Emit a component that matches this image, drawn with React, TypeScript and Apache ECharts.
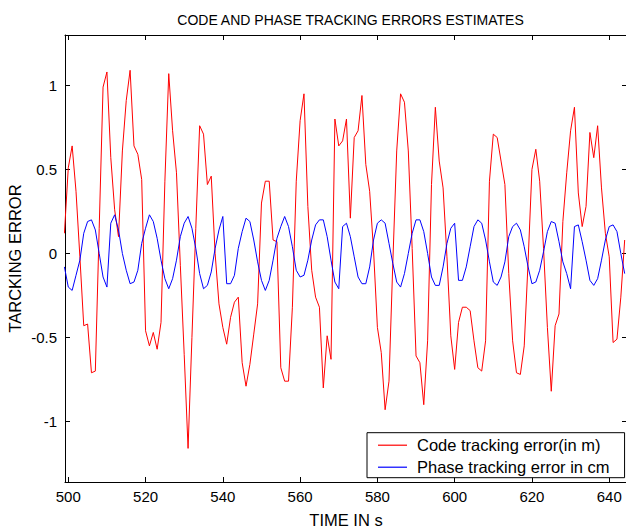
import React, { useEffect, useRef } from "react";
import * as echarts from "echarts";

const startTime = 499;

const codeError = [
  0.12, 0.51, 0.64, 0.37, -0.02, -0.43, -0.42, -0.71, -0.7, 0.15,
  0.99, 1.08, 0.57, 0.26, 0.1, 0.61, 0.91, 1.09, 0.64, 0.59,
  0.44, -0.46, -0.55, -0.47, -0.57, -0.41, 0.43, 1.07, 0.73, 0.48,
  -0.07, -0.6, -1.16, -0.5, 0.15, 0.76, 0.71, 0.41, 0.46, 0.0,
  -0.3, -0.44, -0.54, -0.38, -0.29, -0.26, -0.65, -0.79, -0.66, -0.48,
  -0.3, 0.3, 0.43, 0.43, 0.08, 0.07, -0.68, -0.76, -0.76, -0.32,
  0.43, 0.79, 0.95, 0.28, -0.1, -0.26, -0.32, -0.8, -0.49, -0.63,
  0.8, 0.64, 0.67, 0.8, 0.21, 0.69, 0.73, 0.94, 0.53, 0.37,
  0.02, -0.44, -0.59, -0.93, -0.76, -0.05, 0.61, 0.95, 0.9, 0.61,
  0.03, -0.61, -0.65, -0.9, -0.52, 0.41, 0.87, 0.55, 0.39, -0.02,
  -0.49, -0.69, -0.41, -0.32, -0.32, -0.34, -0.52, -0.68, -0.7, -0.52,
  0.43, 0.71, 0.69, 0.55, 0.41, -0.12, -0.52, -0.71, -0.72, -0.55,
  -0.05, 0.5, 0.62, 0.43, 0.03, -0.44, -0.82, -0.43, -0.36, 0.19,
  0.48, 0.73, 0.87, 0.36, 0.16, 0.28, 0.72, 0.57, 0.76, 0.39,
  0.12, -0.02, -0.53, -0.51, -0.26, 0.08,
];

const phaseError = [
  -0.08, -0.2, -0.22, -0.13, -0.04, 0.12, 0.19, 0.2, 0.14, 0.0,
  -0.14, -0.2, 0.18, 0.23, 0.14, 0.0, -0.1, -0.18, -0.17, -0.1,
  0.06, 0.15, 0.23, 0.19, 0.09, -0.04, -0.15, -0.21, -0.15, -0.04,
  0.1, 0.18, 0.22, 0.15, 0.03, -0.12, -0.21, -0.19, -0.11, 0.03,
  0.14, 0.22, -0.18, -0.18, -0.13, 0.03, 0.13, 0.21, 0.19, 0.08,
  -0.05, -0.16, -0.22, -0.16, -0.04, 0.09, 0.16, 0.22, 0.16, 0.04,
  -0.1, -0.14, -0.13, -0.04, 0.08, 0.17, 0.2, 0.2, 0.1, -0.04,
  -0.17, -0.21, 0.16, 0.18, 0.1, -0.02, -0.14, -0.18, -0.18, -0.08,
  0.08, 0.18, 0.2, 0.18, 0.06, -0.06, -0.17, -0.2, -0.12, 0.0,
  0.12, 0.2, 0.2, 0.13, 0.0, -0.14, -0.19, -0.19, -0.08, 0.06,
  0.15, 0.18, -0.16, -0.16, -0.08, 0.04, 0.16, 0.2, 0.18, 0.08,
  -0.05, -0.17, -0.19, -0.14, -0.05, 0.1, 0.16, 0.18, 0.14, 0.04,
  -0.08, -0.18, -0.17, -0.1, 0.01, 0.13, 0.19, 0.18, 0.07, -0.05,
  -0.12, -0.21, 0.16, 0.17, 0.07, -0.04, -0.16, -0.19, -0.15, -0.04,
  0.08, 0.16, 0.17, 0.13, 0.0, -0.12,
];

const xTicks = [500, 520, 540, 560, 580, 600, 620, 640];
const yTicks = [-1, -0.5, 0, 0.5, 1];

const seriesNames = ["Code tracking error(in m)", "Phase tracking error in cm"];
const seriesColors = ["#ff0000", "#0000ff"];

const FONT = "'Liberation Sans', Arial, Helvetica, sans-serif";

export default function App() {
  const ref = useRef<HTMLDivElement>(null);

  useEffect(() => {
    if (!ref.current) return;
    const chart = echarts.init(ref.current, null, { renderer: "svg" });
    const times = codeError.map((_, i) => startTime + i);
    const xMin = 499.15;
    const xMax = 644.6;
    const yMin = -1.36;
    const yMax = 1.3;
    const axisLine = { show: true, onZero: false, lineStyle: { color: "#000", width: 1 } };

    chart.setOption({
      animation: false,
      backgroundColor: "#ffffff",
      title: {
        text: "CODE AND PHASE TRACKING ERRORS ESTIMATES",
        left: 345.5,
        top: 8,
        textAlign: "center",
        textStyle: { fontSize: 14, fontWeight: "normal", color: "#000", fontFamily: FONT },
      },
      grid: {
        left: 65,
        top: 35,
        width: 562,
        height: 447,
        containLabel: false,
        outerBoundsMode: "none",
      },
      legend: {
        data: seriesNames,
        orient: "vertical",
        left: 367,
        top: 432.7,
        itemWidth: 29,
        itemHeight: 18,
        itemGap: 5,
        icon: "path://M0,0L29,0L29,1.2L0,1.2Z",
        symbolKeepAspect: true,
        padding: [4, 15, 2, 11],
        borderColor: "#000",
        borderWidth: 1,
        backgroundColor: "#fff",
        selectedMode: false,
        textStyle: { fontSize: 16.5, color: "#000", fontFamily: FONT, padding: [0, 0, 0, 5] },
      },
      xAxis: [
        {
          type: "value",
          position: "bottom",
          min: xMin,
          max: xMax,
          axisLine,
          axisTick: { show: true, inside: true, length: 5, customValues: xTicks, lineStyle: { color: "#000" } },
          axisLabel: { show: true, customValues: xTicks, fontSize: 15, color: "#000", fontFamily: FONT, margin: 7 },
          splitLine: { show: false },
          name: "TIME IN s",
          nameLocation: "middle",
          nameGap: 29,
          nameMoveOverlap: false,
          nameTextStyle: { fontSize: 16.5, color: "#000", fontFamily: FONT },
        },
        {
          type: "value",
          position: "top",
          min: xMin,
          max: xMax,
          axisLine,
          axisTick: { show: true, inside: true, length: 5, customValues: xTicks, lineStyle: { color: "#000" } },
          axisLabel: { show: false },
          splitLine: { show: false },
        },
      ],
      yAxis: [
        {
          type: "value",
          position: "left",
          min: yMin,
          max: yMax,
          axisLine,
          axisTick: { show: true, inside: true, length: 5, customValues: yTicks, lineStyle: { color: "#000" } },
          axisLabel: {
            show: true,
            customValues: yTicks,
            fontSize: 15,
            color: "#000",
            fontFamily: FONT,
            margin: 8,
            formatter: (v: number) => String(v),
          },
          splitLine: { show: false },
          name: "TARCKING ERROR",
          nameLocation: "middle",
          nameGap: 42,
          nameMoveOverlap: false,
          nameRotate: 90,
          nameTextStyle: { fontSize: 16.5, color: "#000", fontFamily: FONT },
        },
        {
          type: "value",
          position: "right",
          min: yMin,
          max: yMax,
          axisLine,
          axisTick: { show: true, inside: true, length: 5, customValues: yTicks, lineStyle: { color: "#000" } },
          axisLabel: { show: false },
          splitLine: { show: false },
        },
      ],
      series: [
        {
          name: seriesNames[0],
          type: "line",
          xAxisIndex: 0,
          yAxisIndex: 0,
          data: times.map((t, i) => [t, codeError[i]]),
          symbol: "none",
          showSymbol: false,
          lineStyle: { color: seriesColors[0], width: 1 },
          itemStyle: { color: seriesColors[0] },
          clip: true,
          z: 2,
        },
        {
          name: seriesNames[1],
          type: "line",
          xAxisIndex: 0,
          yAxisIndex: 0,
          data: times.map((t, i) => [t, phaseError[i]]),
          symbol: "none",
          showSymbol: false,
          lineStyle: { color: seriesColors[1], width: 1 },
          itemStyle: { color: seriesColors[1] },
          clip: true,
          z: 3,
        },
      ],
    });

    return () => {
      chart.dispose();
    };
  }, []);

  return (
    <div
      ref={ref}
      style={{ position: "absolute", left: 0, top: 0, width: 626, height: 531 }}
    />
  );
}
